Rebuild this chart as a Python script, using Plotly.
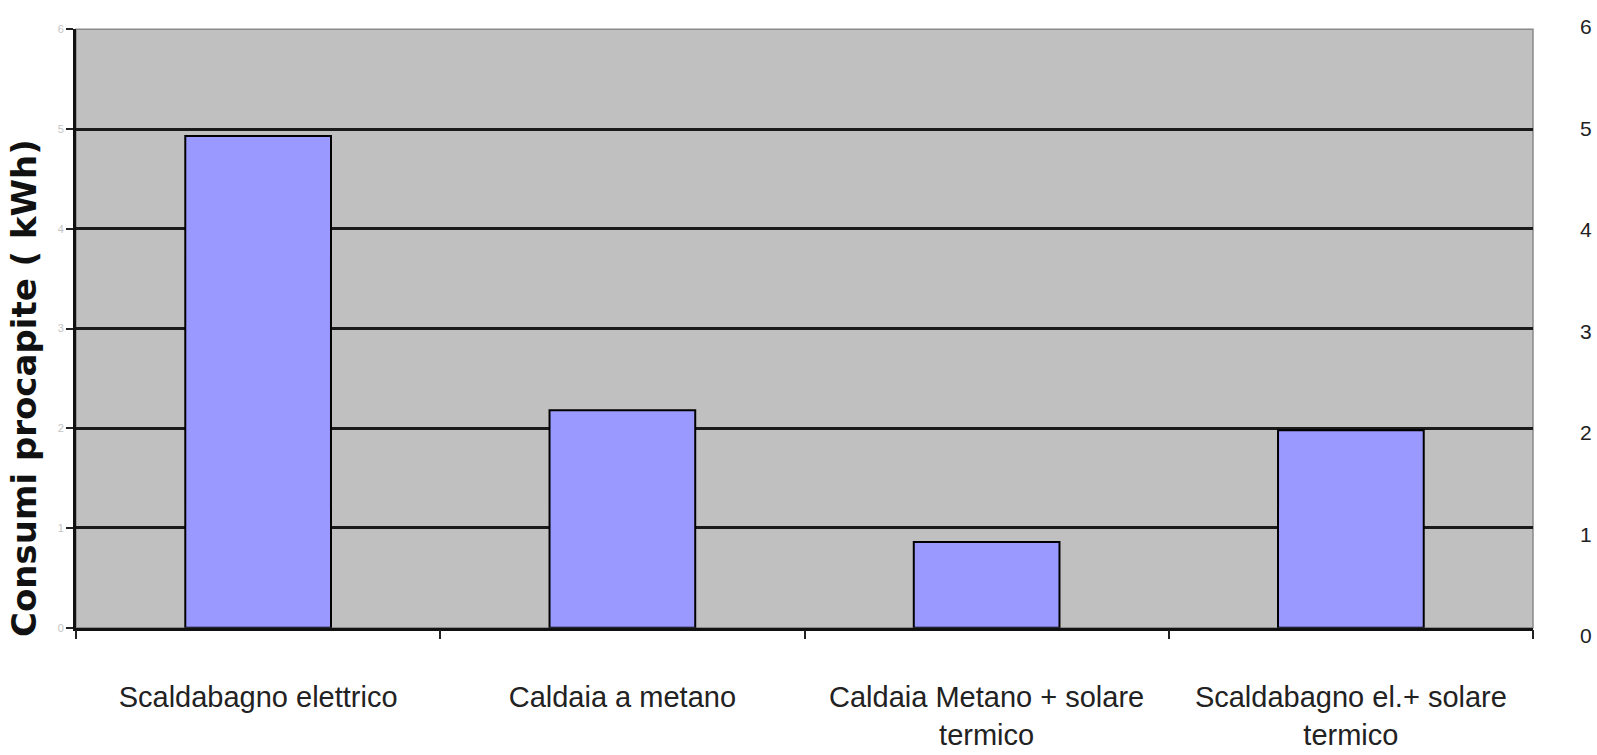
import plotly.graph_objects as go

# Daily per-capita energy use for domestic hot water, by heating system
categories = [
    "Scaldabagno elettrico",
    "Caldaia a metano",
    "Caldaia Metano + solare<br>termico",
    "Scaldabagno el.+ solare<br>termico",
]
consumi_kwh = [4.93, 2.18, 0.86, 1.98]
tick_values = [0, 1, 2, 3, 4, 5, 6]
tick_labels = ["0", "1", "2", "3", "4", "5", "6"]

W, H = 1597, 755
M_L, M_R, M_T, M_B = 76, 64, 27, 117
plot_h = H - M_T - M_B
plot_bottom = H - M_B
main_top_px, main_bottom_px = 29.3, 627.7     # rows of 6 and 0 on the main scale
right_top_px, right_bottom_px = 27, 636       # rows of 6 and 0 on the right scale


def frac(px):
    """Pixel row -> fraction of the plotting area height."""
    return min(1.0, max(0.0, (plot_bottom - px) / plot_h))


fig = go.Figure()

fig.add_trace(go.Bar(
    x=categories,
    y=consumi_kwh,
    marker=dict(color="#9999FF", line=dict(color="#000000", width=2)),
    hoverinfo="x+y",
    showlegend=False,
))

# invisible trace carrying the secondary value scale on the right
fig.add_trace(go.Scatter(
    x=[categories[0]], y=[0], yaxis="y2",
    mode="markers", marker=dict(opacity=0),
    hoverinfo="skip", showlegend=False,
))

fig.update_layout(
    width=W,
    height=H,
    margin=dict(l=M_L, r=M_R, t=M_T, b=M_B, autoexpand=False),
    paper_bgcolor="#FFFFFF",
    plot_bgcolor="rgba(0,0,0,0)",
    bargap=0.6,
    font=dict(family="Liberation Sans, Arial, sans-serif", color="#1a1a1a"),
    xaxis=dict(
        type="category",
        anchor="y",
        automargin=False,
        tickson="boundaries",
        ticks="outside",
        ticklen=9,
        tickwidth=2,
        tickcolor="#222222",
        ticklabelstandoff=42,
        showline=True,
        linecolor="#111111",
        linewidth=2.5,
        showgrid=False,
        tickfont=dict(size=29, color="#222222"),
        fixedrange=True,
    ),
    yaxis=dict(
        domain=[frac(main_bottom_px), frac(main_top_px)],
        range=[0, 6],
        automargin=False,
        tickvals=tick_values,
        ticktext=tick_labels,
        ticks="outside",
        ticklen=7,
        tickwidth=2,
        tickcolor="#222222",
        tickfont=dict(size=11, color="#c4c4c4"),
        showline=True,
        linecolor="#111111",
        linewidth=3,
        showgrid=True,
        gridcolor="#1a1a1a",
        gridwidth=2.8,
        zeroline=False,
        fixedrange=True,
    ),
    yaxis2=dict(
        domain=[frac(right_bottom_px), frac(right_top_px)],
        range=[0, 6],
        anchor="x",
        side="right",
        automargin=False,
        tickvals=tick_values,
        ticktext=tick_labels,
        ticks="",
        ticklabelstandoff=46,
        tickfont=dict(size=21, color="#222222"),
        showgrid=False,
        zeroline=False,
        showline=False,
        fixedrange=True,
    ),
    shapes=[
        # grey plot-area fill, under the gridlines
        dict(type="rect", xref="x domain", yref="y domain",
             x0=0, x1=1, y0=0, y1=1,
             fillcolor="#C0C0C0",
             line=dict(color="#8a8a8a", width=1.5), layer="below"),
    ],
    annotations=[
        dict(
            text="<b>Consumi procapite ( kWh)</b>",
            xref="paper", yref="paper",
            x=(24 - M_L) / (W - M_L - M_R),
            y=frac(388),
            xanchor="center", yanchor="middle",
            textangle=-90,
            showarrow=False,
            font=dict(family="DejaVu Sans, sans-serif", size=34, color="#111111"),
        ),
    ],
)

fig.write_html("out.html")
